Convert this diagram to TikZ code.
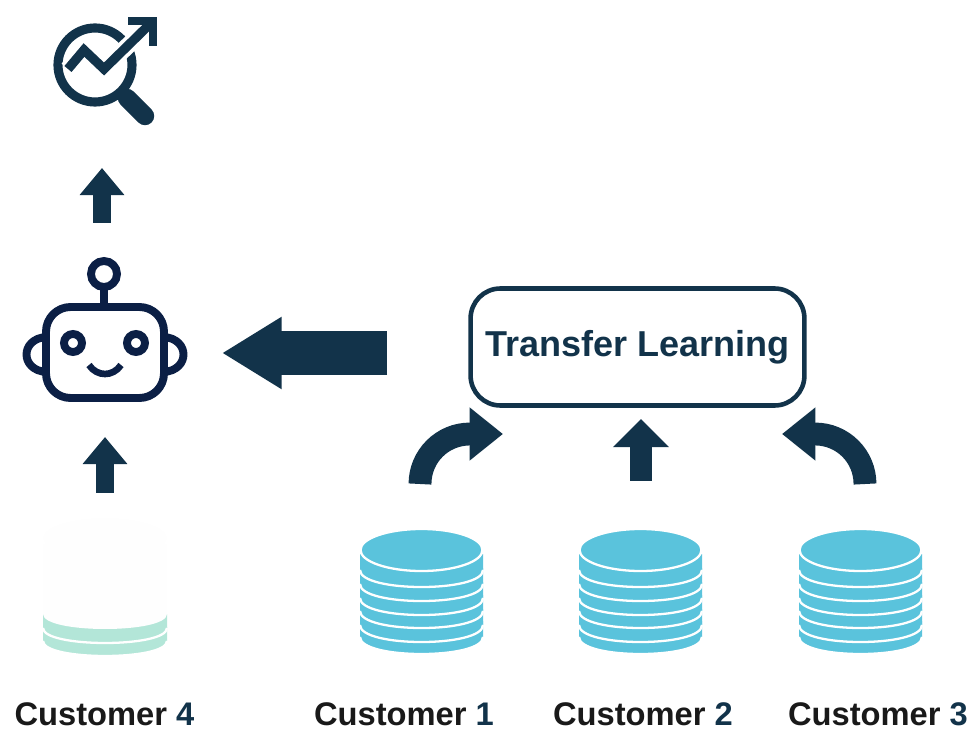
\documentclass[tikz,border=0pt]{standalone}
\usepackage{fontspec}
\setmainfont{Liberation Sans}
\usepackage{xcolor}
\usetikzlibrary{positioning,arrows.meta}
\definecolor{arrownavy}{HTML}{12334A}
\definecolor{robotnavy}{HTML}{0B1F45}
\definecolor{dbblue}{HTML}{5AC3DC}
\definecolor{dbmint}{HTML}{B3E6D8}
\definecolor{dbghost}{HTML}{FEFEFE}
\tikzset{
    smallup/.style = {arrownavy, line width=10.2pt, -{Triangle[length=15.4pt,width=24.5pt]}},
    midup/.style = {arrownavy, line width=12.8pt, -{Triangle[length=16pt,width=31pt]}},
    curved/.style = {arrownavy, line width=13pt, -{Triangle[length=19pt,width=29pt]}},
    bigleft/.style = {arrownavy, line width=24.5pt, -{Triangle[length=34pt,width=38.8pt]}},
    custlabel/.style = {anchor=base, font=\bfseries\fontsize{18.6}{20}\selectfont, text=black!90},
    tlbox/.style = {draw=arrownavy, line width=2.6pt, rounded corners=17pt, minimum width=190pt, minimum height=66.6pt, text=arrownavy, font=\bfseries\fontsize{20.5}{24}\selectfont},
    robotline/.style = {draw=robotnavy, line width=4.5pt},
    lensline/.style = {draw=arrownavy, line width=5.2pt},
}
\begin{document}
\begin{tikzpicture} [x=0.02cm, y=-0.02cm]
\useasboundingbox (0,0) rectangle (974,736);
% customer data
\foreach \dbx/\dbname in {421.5/db1, 640.5/db2, 860.5/db3} {
    \foreach \yl in {637,625,611,598,584,570} {
        \fill [dbblue] (\dbx-61.5,\yl-16) -- (\dbx-61.5,\yl) .. controls +(0,22.7) and +(0,22.7) .. (\dbx+61.5,\yl) -- (\dbx+61.5,\yl-16) -- cycle;
        \draw [white, line width=1.3pt] (\dbx-61.5,\yl) .. controls +(0,22.7) and +(0,22.7) .. (\dbx+61.5,\yl);
    }
    \draw [fill=dbblue, draw=white, line width=1.3pt] (\dbx,550) ellipse [x radius=61, y radius=21];
    \coordinate (\dbname) at (\dbx,550);
}
% faded one
\foreach \yl in {641,628} {
    \fill [dbmint] (43,\yl-14) -- (43,\yl) .. controls +(0,20) and +(0,20) .. (167,\yl) -- (167,\yl-14) -- cycle;
    \draw [white, line width=1.3pt] (43,\yl) .. controls +(0,20) and +(0,20) .. (167,\yl);
}
\foreach \yl in {614,600,586,572,558} {
    \fill [dbghost] (43,\yl-14) -- (43,\yl) .. controls +(0,20) and +(0,20) .. (167,\yl) -- (167,\yl-14) -- cycle;
}
\coordinate (db4) at (105,538);
\fill [dbghost] (db4) ellipse [x radius=62, y radius=20];
\node (c4) [custlabel] at (104.5,725) {Customer \textcolor{arrownavy}{4}};
\node (c1) [custlabel] at (404,725) {Customer \textcolor{arrownavy}{1}};
\node (c2) [custlabel] at (643,725) {Customer \textcolor{arrownavy}{2}};
\node (c3) [custlabel] at (878,725) {Customer \textcolor{arrownavy}{3}};
\node (tl) [tlbox] at (637.5,347) {Transfer Learning};
% robot
\draw [robotline, rounded corners=14pt] (46,307) rectangle (164,398);
\draw [robotline] (104,274) circle [radius=13];
\coordinate (robotstem) at (104,287);
\coordinate (robothead) at (104,307);
\draw [robotline] (robotstem) -- (robothead);
\draw [robotline] (46,337) .. controls +(-26,2) and +(-26,-2) .. (46,372);
\draw [robotline] (164,337) .. controls +(26,2) and +(26,-2) .. (164,372);
\draw [robotline] (73,343) circle [radius=9];
\draw [robotline] (136,343) circle [radius=9];
\draw [draw=robotnavy, line width=3.8pt] (89,365) .. controls (97,377) and (113,377) .. (121,365);
% lens and chart
\draw [lensline] (95,65) circle [radius=37];
\draw [arrownavy, line width=10.5pt, line cap=round] (127,98) -- (145,116);
\draw [white, line width=9.5pt] (68,69) -- (84,50) -- (104,69) -- (147,27);
\draw [arrownavy, line width=5.3pt] (68,69) -- (84,50) -- (104,69) -- (150,24);
\draw [arrownavy, line width=4.6pt] (128,21) -- (153,21) -- (153,46);
% arrows
\coordinate (robotin) at (105,437);
\coordinate (db4out) at (105,493);
\coordinate (robotout) at (102,168);
\coordinate (robotup) at (102,223);
\coordinate (tlout) at (387,353);
\coordinate (robotright) at (222,353);
\coordinate (db1out) at (420,484);
\coordinate (db1neck) at (470,434);
\coordinate (tlleft) at (503,434);
\coordinate (db2out) at (641,481);
\coordinate (tlbottom) at (641,419);
\coordinate (db3out) at (865,484);
\coordinate (db3neck) at (815,434);
\coordinate (tlright) at (782,434);
\path [smallup] (db4out) edge (robotin);
\path [smallup] (robotup) edge (robotout);
\path [bigleft] (tlout) edge (robotright);
\path [midup] (db2out) edge (tlbottom);
\draw [curved] (db1out) to [out=90, in=180] (db1neck) -- (tlleft);
\draw [curved] (db3out) to [out=90, in=0] (db3neck) -- (tlright);
\end{tikzpicture}
\end{document}
